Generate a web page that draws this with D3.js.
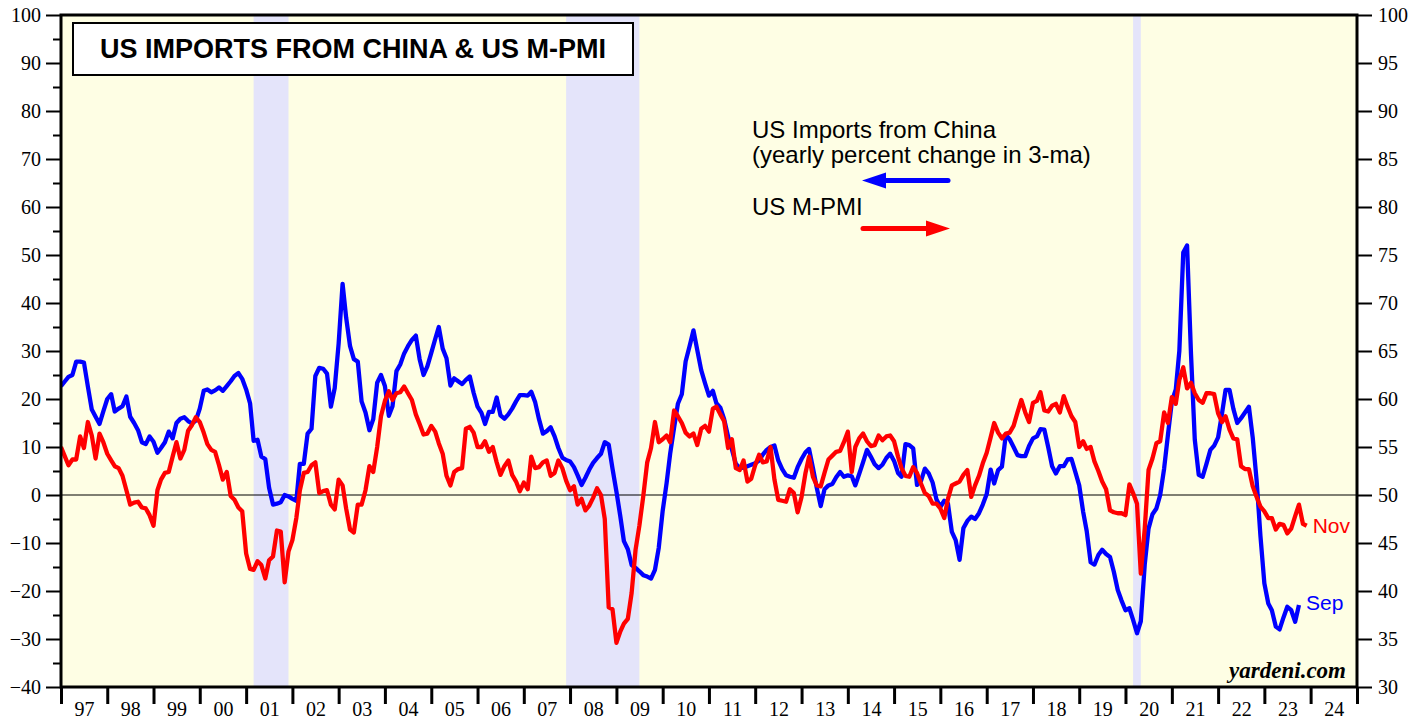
<!DOCTYPE html>
<html>
<head>
<meta charset="utf-8">
<script src="https://cdn.jsdelivr.net/npm/d3@7"></script>
<style>
body { margin: 0; background: #fff; }
svg { display: block; }
.axis text { font-family: "Liberation Serif", "Times New Roman", serif; font-size: 20px; fill: #000; }
.axis line { stroke: #000; }
</style>
</head>
<body>
<svg width="1427" height="719"></svg>
<script>
// monthly values, first one is Dec 1996 (plotted at month end)
var firstMonth = new Date(1996, 11, 1);

// US imports from China, yearly % change in 3-ma (left axis), Dec 1996 - Sep 2023
var importsChina = [
  22.7, 23.7, 24.6, 25, 27.8, 27.8, 27.6, 22.6, 17.8, 16.3, 14.8, 17.4,
  20, 21, 17.4, 18, 18.5, 20.5, 16.3, 15, 13.5, 11, 10.6, 12.2,
  11.1, 8.8, 9.8, 11, 13.2, 11.8, 15, 15.9, 16.2, 15.4, 14.9, 15.5,
  18, 21.7, 22, 21.4, 21.8, 22.4, 21.7, 22.7, 23.7, 24.8, 25.4, 24.2,
  22, 19.1, 11.3, 11.5, 8, 7.5, 1.5, -2, -1.8, -1.5, 0, -0.3,
  -0.8, -1.2, 6.5, 6.5, 12.8, 13.8, 24.8, 26.5, 26.3, 25.3, 18.4, 22.3,
  31.6, 44, 37, 31, 28.3, 27.8, 19.5, 17.2, 13.5, 15.8, 23.4, 25,
  22.7, 16.5, 18.5, 25.8, 27.2, 29.5, 31, 32.3, 33.2, 28.3, 25, 26.8,
  29.6, 32.5, 35, 30.5, 28.5, 22.8, 24.3, 23.7, 23.1, 24, 24.7, 21.3,
  18.4, 17.1, 14.8, 17.3, 17.3, 20.3, 16.6, 15.9, 16.8, 18, 19.5, 20.8,
  20.8, 20.7, 21.5, 19.3, 15.8, 12.8, 13.3, 14.1, 12.2, 9.8, 7.8, 7.3,
  7, 5.8, 4.1, 2.1, 3.6, 5.3, 6.7, 7.7, 8.6, 11, 10.5, 5.5,
  0.7, -4.5, -9.6, -11.3, -14.6, -15.2, -15.9, -16.7, -17, -17.4, -15.6, -11,
  -3.3, 2.5, 8.6, 14, 19, 21, 27.8, 31, 34.3, 30.2, 26, 23.3,
  20.7, 21.7, 19.1, 18.2, 15.8, 12.2, 9.5, 6.5, 5.6, 5.7, 6, 6.3,
  6.6, 7.2, 8.4, 9.4, 10, 10.3, 7.2, 5.4, 4.1, 3.8, 3.6, 5.8,
  7.5, 8.9, 9.6, 5.6, 1.5, -2.3, 1.2, 2, 2.3, 3.7, 4.8, 3.8,
  4.1, 3.9, 2, 4.4, 6.8, 9.4, 8, 6.4, 5.6, 6.3, 7.7, 8.6,
  7.1, 4.6, 3.8, 10.6, 10.4, 9.7, 2.1, 2.9, 5.5, 4.5, 2.6, -0.9,
  -2.5, -1.2, -1.8, -7.7, -9.4, -13.5, -6.9, -5.4, -4.5, -5, -3.8, -2,
  0.2, 5.3, 2.4, 5.2, 5.9, 12.6, 11.6, 10, 8.3, 8.1, 8.1, 10.2,
  11.8, 12.2, 13.7, 13.6, 10, 6, 4.5, 6, 6, 7.4, 7.5, 4.8,
  2, -3.5, -7.5, -14, -14.5, -12.5, -11.4, -12.3, -12.9, -16, -19.8, -22,
  -24, -23.6, -26, -28.8, -26.3, -14.5, -7, -4, -2.8, 0, 5.5, 12.5,
  19.5, 22, 30, 50.5, 52, 29.4, 11.5, 4.2, 3.8, 6.5, 9.4, 10.3,
  12, 17, 21.9, 21.9, 18, 15, 16, 17.2, 18.4, 12, 3, -8.5,
  -18.4, -22.6, -24, -27.4, -28, -25.5, -23.3, -24, -26.4, -22.9
];

// US M-PMI (right axis), Dec 1996 - Nov 2023
var usMPmi = [
  55, 54, 53.1, 53.7, 53.7, 56.1, 54.9, 57.6, 56.2, 53.8, 56.4, 55.5,
  54.3, 53.6, 53, 52.8, 52, 50.5, 49, 49.2, 49.3, 48.7, 48.6, 47.9,
  46.8, 50.5, 51.6, 52.3, 52.4, 54, 55.5, 53.8, 54.7, 56.7, 57.3, 58.1,
  57.6, 56.5, 55.3, 54.7, 54.5, 53.1, 51.6, 52.4, 49.9, 49.5, 48.7, 48.3,
  43.9, 42.3, 42.2, 43.1, 42.7, 41.3, 43.2, 43.6, 46.3, 46.2, 40.9, 44.1,
  45.3, 47.6, 50.5, 52.3, 52.4, 53.1, 53.4, 50.2, 50.4, 50.5, 49, 48.5,
  51.6, 51, 48.6, 46.4, 46.1, 49, 49, 50.5, 53, 52.4, 55, 58.2,
  59.8, 60.8, 59.9, 60.6, 60.7, 61.3, 60.6, 59.9, 58.4, 57.4, 56.3, 56.4,
  57.2, 56.6, 55.4, 54.3, 52, 51, 52.4, 52.7, 52.8, 56.9, 57.1, 56.5,
  55, 55, 55.6, 54.5, 55, 53.4, 52.1, 53, 53.6, 52.1, 51.4, 50.4,
  51.3, 50.6, 54, 52.8, 52.9, 53.4, 53.6, 52, 52.3, 53.6, 52.8, 51.5,
  50.5, 50.9, 49, 49.6, 48.4, 48.9, 49.7, 50.7, 50, 47.5, 38.3, 38.1,
  34.6, 35.8, 36.6, 37.1, 39.8, 44.3, 46.8, 49.9, 53.4, 54.9, 57.6, 55.5,
  55.8, 56.2, 55.5, 58.8, 58.2, 57.5, 56.5, 56.1, 56.4, 55.2, 56.9, 57.2,
  56.6, 59, 59.2, 58.4, 57.7, 54.9, 55.8, 52.8, 52.6, 53.6, 51.4, 51.7,
  53.1, 54.2, 53.4, 53.5, 55, 51.6, 49.5, 49.4, 49.3, 50.6, 50.2, 48.2,
  49.8, 52.3, 54, 51.9, 51, 50.9, 52.3, 53.7, 54.1, 54.5, 54.6, 55.5,
  56.6, 52.4, 55, 55.9, 56.4, 55.6, 55.1, 55.2, 56.2, 55.7, 56.1, 56.2,
  55.6, 54, 52.8, 52, 51.9, 52.9, 52.3, 51.2, 50.2, 49.9, 49.1, 49.1,
  48.6, 47.6, 49.6, 51, 51.2, 51.4, 52.1, 52.6, 49.8, 51, 52, 53.3,
  54.4, 56, 57.5, 56.5, 55.9, 56.4, 56.5, 57.2, 58.6, 59.9, 58.6, 57.6,
  59.6, 59.8, 60.7, 58.8, 58.7, 59.3, 59.5, 58.6, 60.3, 59.2, 58.2, 57.6,
  55, 55.6, 54.8, 55, 53.5, 52.5, 51.4, 50.6, 48.4, 48.2, 48.1, 48.1,
  47.9, 51.1, 50.2, 49.1, 41.8, 46.5, 52.6, 53.8, 55.4, 55.6, 58.6, 57.5,
  60.2, 59.5, 62, 63.3, 61.1, 61.7, 60.6, 59.9, 59.6, 60.6, 60.6, 60.5,
  58.5, 57.6, 58.2, 56.8, 55.9, 55.8, 53, 52.7, 52.7, 50.9, 49.8, 48.8,
  48.3, 47.6, 47.6, 46.4, 47, 46.9, 46, 46.5, 47.8, 49, 47, 46.8
];

var yearLabels = ["97","98","99","00","01","02","03","04","05","06","07","08","09","10",
  "11","12","13","14","15","16","17","18","19","20","21","22","23","24"];
var leftTicks = [-40, -30, -20, -10, 0, 10, 20, 30, 40, 50, 60, 70, 80, 90, 100];
var leftMinorTicks = [-35, -25, -15, -5, 5, 15, 25, 35, 45, 55, 65, 75, 85, 95];
var rightTicks = [30, 35, 40, 45, 50, 55, 60, 65, 70, 75, 80, 85, 90, 95, 100];
var recessions = [
  ["2001-03-01", "2001-12-01"],
  ["2007-12-01", "2009-07-01"],
  ["2020-03-01", "2020-05-01"]
];

var svg = d3.select("svg"),
    plotLeft = 61, plotRight = 1357, plotTop = 15, plotBottom = 687;

var parse = d3.timeParse("%Y-%m-%d");

var x = d3.scaleTime()
        .domain([new Date(1997, 0, 1), new Date(2025, 0, 1)])
        .range([plotLeft, plotRight]);
var yLeft = d3.scaleLinear().domain([-40, 100]).range([plotBottom, plotTop]);
var yRight = d3.scaleLinear().domain([30, 100]).range([plotBottom, plotTop]);

function monthEnd(i) {
    return d3.timeMonth.offset(firstMonth, i + 1);
}

svg.append("rect")
        .attr("x", plotLeft).attr("y", plotTop)
        .attr("width", plotRight - plotLeft).attr("height", plotBottom - plotTop)
        .attr("fill", "#fefee4");

svg.append("g")
        .selectAll("rect")
        .data(recessions)
        .enter().append("rect")
        .attr("x", function (d) { return x(parse(d[0])); })
        .attr("width", function (d) { return x(parse(d[1])) - x(parse(d[0])); })
        .attr("y", plotTop)
        .attr("height", plotBottom - plotTop)
        .attr("fill", "#e4e4fa");

svg.append("line")
        .attr("x1", plotLeft).attr("x2", plotRight)
        .attr("y1", yLeft(0)).attr("y2", yLeft(0))
        .attr("stroke", "#000").attr("stroke-width", 1.2);

svg.append("clipPath").attr("id", "plot")
        .append("rect")
        .attr("x", plotLeft).attr("y", plotTop)
        .attr("width", plotRight - plotLeft).attr("height", plotBottom - plotTop);

var blueLine = d3.line()
        .x(function (d, i) { return x(monthEnd(i)); })
        .y(function (d) { return yLeft(d); });

var redLine = d3.line()
        .x(function (d, i) { return x(monthEnd(i)); })
        .y(function (d) { return yRight(d); });

svg.append("path")
        .datum(importsChina)
        .attr("clip-path", "url(#plot)")
        .attr("d", blueLine)
        .attr("fill", "none")
        .attr("stroke", "#0000ff")
        .attr("stroke-width", 4.3)
        .attr("stroke-linejoin", "round");

svg.append("path")
        .datum(usMPmi)
        .attr("clip-path", "url(#plot)")
        .attr("d", redLine)
        .attr("fill", "none")
        .attr("stroke", "#ff0000")
        .attr("stroke-width", 4.3)
        .attr("stroke-linejoin", "round");

// end labels
var lastBlue = importsChina.length - 1,
    lastRed = usMPmi.length - 1;

svg.append("text")
        .attr("x", x(monthEnd(lastRed)) + 6)
        .attr("y", yRight(usMPmi[lastRed]) + 7)
        .attr("font-family", "Liberation Sans, Arial, sans-serif")
        .attr("font-size", 21)
        .attr("fill", "#ff0000")
        .text("Nov");

svg.append("text")
        .attr("x", x(monthEnd(lastBlue)) + 7)
        .attr("y", yLeft(importsChina[lastBlue]) + 5)
        .attr("font-family", "Liberation Sans, Arial, sans-serif")
        .attr("font-size", 21)
        .attr("fill", "#0000ff")
        .text("Sep");

// axes
var gLeft = svg.append("g").attr("class", "axis")
        .attr("transform", "translate(" + plotLeft + ",0)")
        .call(d3.axisLeft(yLeft).tickValues(leftTicks).tickSize(15).tickPadding(5).tickFormat(d3.format("d")));
gLeft.select(".domain").remove();
gLeft.selectAll("line").attr("stroke-width", 2);

var gLeftMinor = svg.append("g").attr("class", "axis")
        .attr("transform", "translate(" + plotLeft + ",0)")
        .call(d3.axisLeft(yLeft).tickValues(leftMinorTicks).tickSize(8).tickFormat(""));
gLeftMinor.select(".domain").remove();
gLeftMinor.selectAll("line").attr("stroke-width", 2);

var gRight = svg.append("g").attr("class", "axis")
        .attr("transform", "translate(" + plotRight + ",0)")
        .call(d3.axisRight(yRight).tickValues(rightTicks).tickSize(15).tickPadding(6));
gRight.select(".domain").remove();
gRight.selectAll("line").attr("stroke-width", 2);

var yearTicks = yearLabels.map(function (d, i) { return new Date(1997 + i, 0, 1); });
yearTicks.push(new Date(2025, 0, 1));

var gBottom = svg.append("g").attr("class", "axis")
        .attr("transform", "translate(0," + plotBottom + ")")
        .call(d3.axisBottom(x).tickValues(yearTicks).tickSize(17).tickFormat(""));
gBottom.select(".domain").remove();
gBottom.selectAll("line").attr("stroke-width", 3);

var midYears = yearLabels.map(function (d, i) { return new Date(1997 + i, 6, 2); });
var gBottomLabels = svg.append("g").attr("class", "axis")
        .attr("transform", "translate(0," + plotBottom + ")")
        .call(d3.axisBottom(x).tickValues(midYears).tickSize(0).tickPadding(15)
                .tickFormat(function (d, i) { return yearLabels[i]; }));
gBottomLabels.select(".domain").remove();

// frame
svg.append("rect")
        .attr("x", plotLeft).attr("y", plotTop)
        .attr("width", plotRight - plotLeft).attr("height", plotBottom - plotTop)
        .attr("fill", "none")
        .attr("stroke", "#000")
        .attr("stroke-width", 3);

// title box
svg.append("rect")
        .attr("x", 73).attr("y", 23)
        .attr("width", 560).attr("height", 52)
        .attr("fill", "#fff")
        .attr("stroke", "#000")
        .attr("stroke-width", 2);

svg.append("text")
        .attr("x", 353).attr("y", 58)
        .attr("text-anchor", "middle")
        .attr("font-family", "Liberation Sans, Arial, sans-serif")
        .attr("font-weight", "bold")
        .attr("font-size", 27)
        .text("US IMPORTS FROM CHINA & US M-PMI");

// legend
var legend = svg.append("g")
        .attr("font-family", "Liberation Sans, Arial, sans-serif")
        .attr("font-size", 24)
        .attr("fill", "#000");

legend.append("text").attr("x", 752).attr("y", 138).text("US Imports from China");
legend.append("text").attr("x", 752).attr("y", 163).text("(yearly percent change in 3-ma)");
legend.append("text").attr("x", 752).attr("y", 215).text("US M-PMI");

legend.append("line")
        .attr("x1", 948).attr("x2", 876)
        .attr("y1", 180.5).attr("y2", 180.5)
        .attr("stroke", "#0000ff").attr("stroke-width", 5).attr("stroke-linecap", "round");
legend.append("path")
        .attr("d", "M862,180.5 L886,172.5 L886,188.5 Z")
        .attr("fill", "#0000ff");

legend.append("line")
        .attr("x1", 863).attr("x2", 935)
        .attr("y1", 228.5).attr("y2", 228.5)
        .attr("stroke", "#ff0000").attr("stroke-width", 5).attr("stroke-linecap", "round");
legend.append("path")
        .attr("d", "M950,228.5 L926,220.5 L926,236.5 Z")
        .attr("fill", "#ff0000");

svg.append("text")
        .attr("x", 1346).attr("y", 678)
        .attr("text-anchor", "end")
        .attr("font-family", "Liberation Serif, Times New Roman, serif")
        .attr("font-weight", "bold")
        .attr("font-style", "italic")
        .attr("font-size", 23)
        .text("yardeni.com");
</script>
</body>
</html>
